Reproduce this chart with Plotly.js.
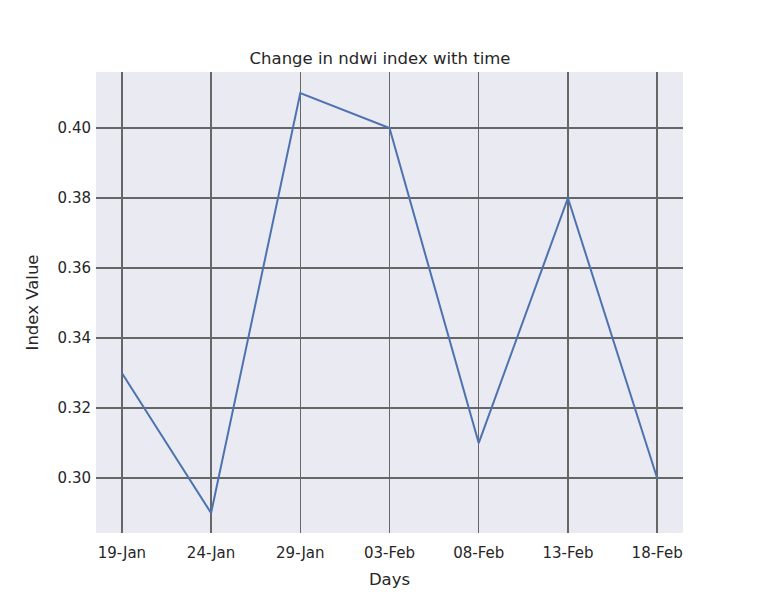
<!DOCTYPE html>
<html>
<head>
<meta charset="utf-8">
<script src="https://cdn.plot.ly/plotly-3.0.1.min.js"></script>
<style>body{margin:0;background:#fff}#chart{width:760px;height:600px}</style>
</head>
<body>
<div id="chart"></div>
<script>
const days = ["19-Jan", "24-Jan", "29-Jan", "03-Feb", "08-Feb", "13-Feb", "18-Feb"];
const ndwiValues = [0.33, 0.29, 0.41, 0.40, 0.31, 0.38, 0.30];
const yTicks = [0.30, 0.32, 0.34, 0.36, 0.38, 0.40];

const trace = {
  x: days,
  y: ndwiValues,
  type: "scatter",
  mode: "lines",
  line: {color: "#4c72b0", width: 2},
  hoverinfo: "none"
};

const fontFamily = "DejaVu Sans, sans-serif";
const layout = {
  width: 760,
  height: 600,
  paper_bgcolor: "#ffffff",
  plot_bgcolor: "#eaeaf2",
  margin: {l: 96, r: 77, t: 72, b: 67},
  showlegend: false,
  font: {family: fontFamily, color: "#262626", size: 15},
  title: {
    text: "Change in ndwi index with time",
    font: {family: fontFamily, size: 16.5, color: "#262626"},
    x: 0.5, xanchor: "center",
    y: 1 - 58/600, yanchor: "middle"
  },
  xaxis: {
    type: "category",
    range: [-0.29, 6.29],
    showgrid: true,
    gridcolor: "#666666",
    gridwidth: 1.5,
    zeroline: false,
    showline: false,
    ticks: "",
    ticklen: 0,
    ticklabelstandoff: 9,
    tickfont: {family: fontFamily, size: 15, color: "#262626"},
    title: {text: "Days", font: {family: fontFamily, size: 16.5, color: "#262626"}, standoff: 12}
  },
  yaxis: {
    range: [0.2843, 0.4160],
    tickvals: yTicks,
    ticktext: yTicks.map(v => v.toFixed(2)),
    showgrid: true,
    gridcolor: "#666666",
    gridwidth: 1.5,
    zeroline: false,
    showline: false,
    ticks: "",
    ticklabelstandoff: 4,
    tickfont: {family: fontFamily, size: 15, color: "#262626"},
    title: {text: "Index Value", font: {family: fontFamily, size: 16.5, color: "#262626"}, standoff: 14}
  }
};

Plotly.newPlot("chart", [trace], layout, {displayModeBar: false, staticPlot: true});
</script>
</body>
</html>
